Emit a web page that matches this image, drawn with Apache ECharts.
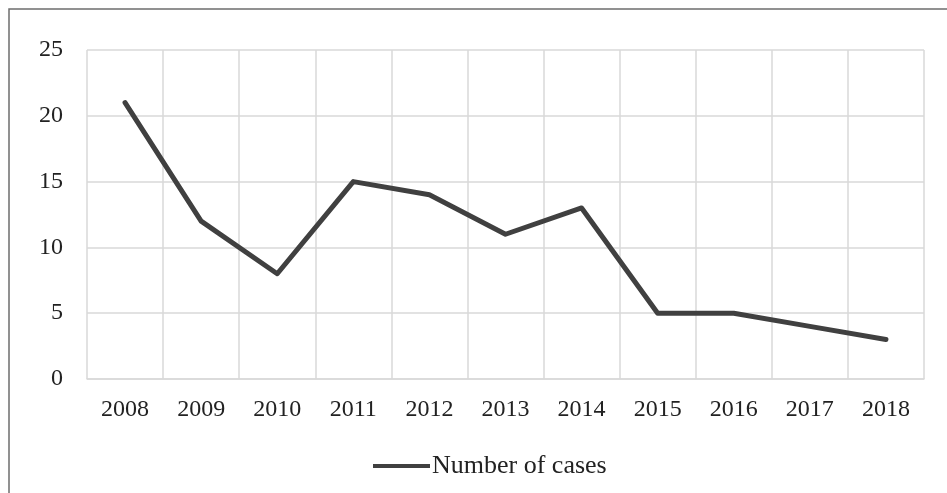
<!DOCTYPE html>
<html><head><meta charset="utf-8">
<script src="https://cdn.jsdelivr.net/npm/echarts@6/dist/echarts.min.js"></script>
<style>html,body{margin:0;padding:0;background:#fff}#c{width:947px;height:493px}</style>
</head><body><div id="c"></div>
<script>
const years = ['2008','2009','2010','2011','2012','2013','2014','2015','2016','2017','2018'];
const cases = [21, 12, 8, 15, 14, 11, 13, 5, 5, 4, 3];
const seriesName = 'Number of cases';
const FONT = '"Liberation Serif", "DejaVu Serif", serif';
const chart = echarts.init(document.getElementById('c'), null, {renderer: 'canvas'});
chart.setOption({
  animation: false,
  backgroundColor: '#fff',
  graphic: [{type: 'rect', shape: {x: 9, y: 9, width: 960, height: 500},
    style: {fill: 'none', stroke: '#6e6e6e', lineWidth: 1.5}, silent: true}],
  grid: {left: 87, right: 23, top: 50, bottom: 114, containLabel: false},
  legend: {data: [seriesName], bottom: 9, left: 368, itemWidth: 57, itemHeight: 4, itemGap: 5,
    icon: 'rect',
    textStyle: {fontFamily: FONT, fontSize: 26, color: '#222', padding: [0,0,0,-3]}},
  xAxis: {type: 'category', data: years, boundaryGap: true,
    axisLine: {show: true, lineStyle: {color: '#d9d9d9', width: 1.5}},
    axisTick: {show: false},
    splitLine: {show: true, lineStyle: {color: '#d9d9d9', width: 1.5}},
    axisLabel: {fontFamily: FONT, fontSize: 24, color: '#222', margin: 19}},
  yAxis: {type: 'value', min: 0, max: 25, interval: 5,
    axisLine: {show: false}, axisTick: {show: false},
    splitLine: {lineStyle: {color: '#d9d9d9', width: 1.5}},
    axisLabel: {fontFamily: FONT, fontSize: 24, color: '#222', margin: 24}},
  series: [{name: seriesName, type: 'line', data: cases, symbol: 'none',
    lineStyle: {color: '#404040', width: 5, cap: 'round', join: 'round'},
    itemStyle: {color: '#404040'}}]
});
</script></body></html>
